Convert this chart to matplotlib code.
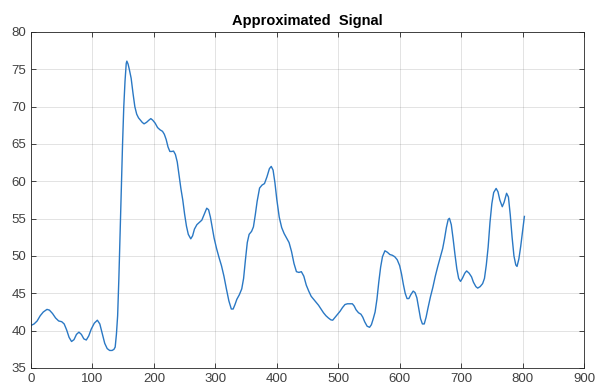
import matplotlib
matplotlib.use("Agg")
import matplotlib.pyplot as plt

x = [0, 5, 10, 15, 20, 26, 30, 35, 40, 45, 50, 54, 58, 62, 66, 70, 74, 78, 82, 86,
     90, 94, 98, 103, 108, 112, 116, 120, 124, 128, 132, 135, 137, 139, 141, 143, 145,
     147, 149, 151, 153, 155, 156, 158, 160, 163, 166, 169, 172, 175, 178, 181, 184,
     188, 192, 195, 198, 202, 206, 210, 214, 217, 220, 223, 226, 229, 232, 235, 238,
     241, 244, 247, 250, 253, 256, 260, 263, 266, 270, 274, 278, 282, 286, 289, 292,
     295, 298, 302, 306, 310, 314, 318, 322, 326, 329, 332, 335, 339, 343, 346, 349,
     352, 355, 359, 362, 365, 368, 372, 376, 380, 384, 388, 391, 394, 397, 400, 404,
     408, 412, 416, 420, 424, 428, 432, 436, 440, 444, 448, 452, 456, 460, 464, 468,
     472, 476, 480, 484, 488, 491, 495, 499, 503, 507, 511, 515, 519, 523, 526, 529,
     533, 537, 540, 543, 547, 551, 554, 557, 560, 563, 566, 569, 572, 576, 580, 584,
     588, 592, 596, 600, 603, 606, 609, 612, 615, 618, 622, 625, 628, 631, 634, 637,
     640, 643, 646, 650, 654, 658, 662, 666, 670, 673, 676, 679, 681, 684, 687, 690,
     693, 696, 699, 702, 706, 709, 713, 717, 720, 724, 727, 731, 735, 738, 741, 744,
     747, 750, 753, 757, 760, 763, 767, 770, 774, 777, 780, 783, 786, 789, 791, 794,
     797, 800, 803]
y = [40.7, 40.9, 41.3, 42.0, 42.5, 42.85, 42.75, 42.3, 41.7, 41.3, 41.2, 40.9, 40.1,
     39.1, 38.55, 38.8, 39.5, 39.8, 39.5, 38.9, 38.75, 39.3, 40.2, 41.0, 41.4, 40.9,
     39.6, 38.3, 37.6, 37.35, 37.35, 37.5, 37.8, 39.5, 42.0, 47.0, 53.0, 59.0, 65.0,
     70.0, 73.4, 75.8, 76.1, 75.7, 75.0, 73.8, 71.8, 70.0, 69.0, 68.5, 68.2, 67.9,
     67.7, 67.9, 68.2, 68.4, 68.2, 67.8, 67.2, 66.9, 66.7, 66.3, 65.6, 64.6, 64.0,
     64.0, 64.05, 63.6, 62.6, 60.8, 59.0, 57.5, 55.6, 54.0, 52.9, 52.3, 52.7, 53.6,
     54.2, 54.5, 54.8, 55.6, 56.4, 56.2, 55.2, 53.8, 52.4, 51.0, 49.8, 48.7, 47.3,
     45.6, 44.0, 42.9, 42.9, 43.5, 44.2, 44.8, 45.6, 47.0, 49.5, 51.8, 52.9, 53.3,
     53.9, 55.5, 57.3, 59.1, 59.5, 59.7, 60.6, 61.7, 62.0, 61.5, 59.8, 57.6, 55.2,
     53.8, 53.0, 52.4, 51.8, 50.6, 49.0, 47.9, 47.8, 47.9, 47.3, 46.1, 45.3, 44.6,
     44.2, 43.8, 43.4, 42.9, 42.4, 42.0, 41.7, 41.45, 41.4, 41.8, 42.2, 42.6, 43.1,
     43.5, 43.6, 43.6, 43.6, 43.3, 42.8, 42.4, 42.2, 41.8, 41.2, 40.6, 40.45, 40.8,
     41.6, 42.5, 44.2, 46.5, 48.5, 49.9, 50.7, 50.5, 50.2, 50.1, 49.9, 49.5, 48.7,
     47.6, 46.2, 45.0, 44.3, 44.3, 44.8, 45.3, 45.1, 44.4, 43.0, 41.6, 40.9, 40.9,
     41.8, 43.0, 44.5, 45.8, 47.3, 48.6, 49.8, 51.0, 52.3, 53.8, 54.9, 55.05, 54.2,
     52.3, 50.2, 48.3, 47.0, 46.6, 47.0, 47.7, 48.0, 47.7, 47.2, 46.5, 45.9, 45.7,
     45.9, 46.3, 47.0, 48.8, 51.2, 54.5, 57.0, 58.5, 59.05, 58.6, 57.5, 56.6, 57.2,
     58.4, 57.9, 55.5, 52.5, 50.0, 48.8, 48.6, 49.6, 51.3, 53.3, 55.3]

xticks = [0, 100, 200, 300, 400, 500, 600, 700, 800, 900]
yticks = [35, 40, 45, 50, 55, 60, 65, 70, 75, 80]
title = "Approximated  Signal"

plt.rcParams['font.family'] = ['Liberation Sans', 'DejaVu Sans']
fig = plt.figure(figsize=(5.97, 3.91), dpi=100)
ax = fig.add_axes([31/597, 23/391, 553/597, 336/391])
ax.plot(x, y, color='#2a78c4', linewidth=1.0)
ax.set_xlim(0, 900)
ax.set_ylim(35, 80)
ax.set_xticks(xticks)
ax.set_yticks(yticks)
ax.grid(True, color='#262626', alpha=0.15, linewidth=0.6)
ax.set_axisbelow(True)
ax.tick_params(direction='in', length=3.5, width=0.6, colors='#262626',
               labelsize=9.5, top=True, right=True, labelcolor='#404040')
for s in ax.spines.values():
    s.set_color('#262626')
    s.set_linewidth(0.6)
ax.set_title(title, fontsize=10.5, fontweight='bold', pad=5)
fig.savefig('out.png', dpi=100)
